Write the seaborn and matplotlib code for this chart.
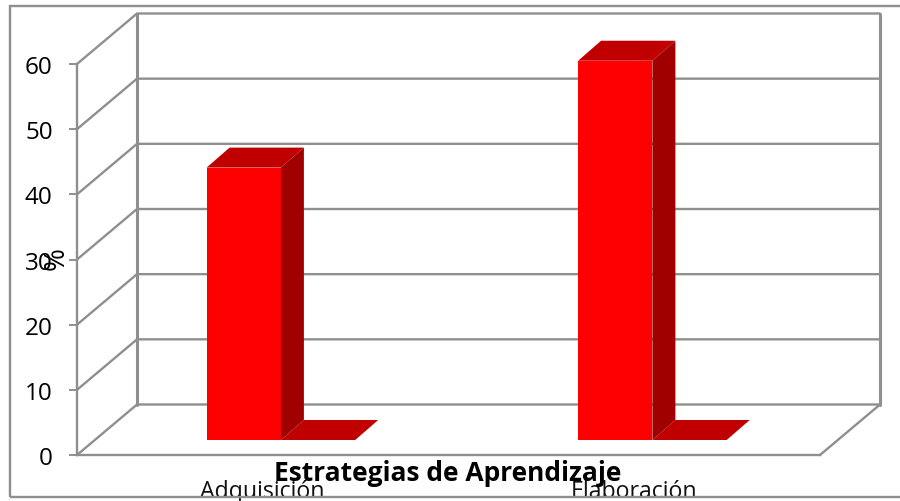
# Estrategias de Aprendizaje - 3D style bar chart
import pandas as pd
import seaborn as sns
import matplotlib.pyplot as plt
from matplotlib.patches import Rectangle

categorias = ['Adquisición', 'Elaboración']
porcentajes = [41.8, 58.2]
y_ticks = [0, 10, 20, 30, 40, 50, 60]

GRIS = '#8f8f8f'
W, H = 900, 502

sns.set_theme(style="white", rc={
    "axes.edgecolor": GRIS,
    "axes.linewidth": 1.7,
    "ytick.left": True,
    "ytick.color": GRIS,
    "ytick.major.size": 5.5,
    "ytick.major.width": 1.4,
})
plt.rcParams['font.family'] = ['Open Sans', 'DejaVu Sans']

fig = plt.figure(figsize=(W / 100, H / 100), dpi=100, facecolor='white')


def px_axes(left, bottom_y, width, height):
    # axes placed from picture pixels (y measured from the top)
    return fig.add_axes([left / W, (H - bottom_y) / H, width / W, height / H])


# front plane of the box
ax = px_axes(77, 456, 743, 391)
ax.set_xlim(-0.5, 1.5)
ax.set_ylim(0, 60)
ax.patch.set_visible(False)
sns.despine(ax=ax, top=True, right=True)
ax.set_yticks(y_ticks)
ax.set_xticks([0, 1], categorias)
ax.tick_params(axis='y', labelsize=17.5, labelcolor='black', pad=12)
ax.tick_params(axis='x', length=0, labelsize=16.7, labelcolor='#111111', pad=17)

ax.set_xlabel('Estrategias de Aprendizaje', fontsize=19, fontweight='bold',
              color='black', va='center', zorder=5)
ax.xaxis.set_label_coords((448 - 77) / 743, -(474 - 456) / 391)
ax.set_ylabel('%', fontsize=20, color='black', va='center')
ax.yaxis.set_label_coords((57 - 77) / 743, (456 - 259) / 391)

# walls and gridlines going back from the front plane
dx_box = 60 / (743 / 2)
dy_box = 50.5 / (391 / 60)
for t in y_ticks:
    ax.plot([-0.5, -0.5 + dx_box, 1.5 + dx_box], [t, t + dy_box, t + dy_box],
            color=GRIS, lw=1.7, clip_on=False, solid_joinstyle='miter')
ax.plot([-0.5 + dx_box] * 2, [dy_box, 60 + dy_box], color=GRIS, lw=2.2, clip_on=False)
ax.plot([1.5 + dx_box] * 2, [dy_box, 60 + dy_box], color=GRIS, lw=2.2, clip_on=False)
ax.plot([1.5, 1.5 + dx_box], [0, dy_box], color=GRIS, lw=1.7, clip_on=False)

# bars sit on their own axes, moved into the box
ax_bar = px_axes(58, 441, 743, 391)
df = pd.DataFrame({'estrategia': categorias, 'pct': porcentajes})
sns.barplot(data=df, x='estrategia', y='pct', color='#ff0000', saturation=1,
            width=0.2, linewidth=0, ax=ax_bar)
ax_bar.set_xlim(-0.5, 1.5)
ax_bar.set_ylim(0, 60)
ax_bar.axis('off')

dx = 23 / (743 / 2)
dy = 20 / (391 / 60)
for bar in list(ax_bar.patches):
    x0, w, h = bar.get_x(), bar.get_width(), bar.get_height()
    x1 = x0 + w
    ax_bar.fill([x1, x1 + w, x1 + w + dx, x1 + dx], [0, 0, dy, dy],
                color='#c00000', lw=0, clip_on=False, zorder=1)
    ax_bar.fill([x1, x1 + dx, x1 + dx, x1], [0, dy, h + dy, h],
                color='#a00000', lw=0, clip_on=False, zorder=2)
    ax_bar.fill([x0, x1, x1 + dx, x0 + dx], [h, h, h + dy, h + dy],
                color='#c00000', lw=0, clip_on=False, zorder=2)

# outer chart frame, the right side runs off the picture
fig.add_artist(Rectangle((9.5 / W, (H - 497.5) / H), 1, (497.5 - 6.5) / H, fill=False,
                         edgecolor=GRIS, lw=1.7, transform=fig.transFigure))

fig.savefig('out.png', dpi=100, facecolor='white')
